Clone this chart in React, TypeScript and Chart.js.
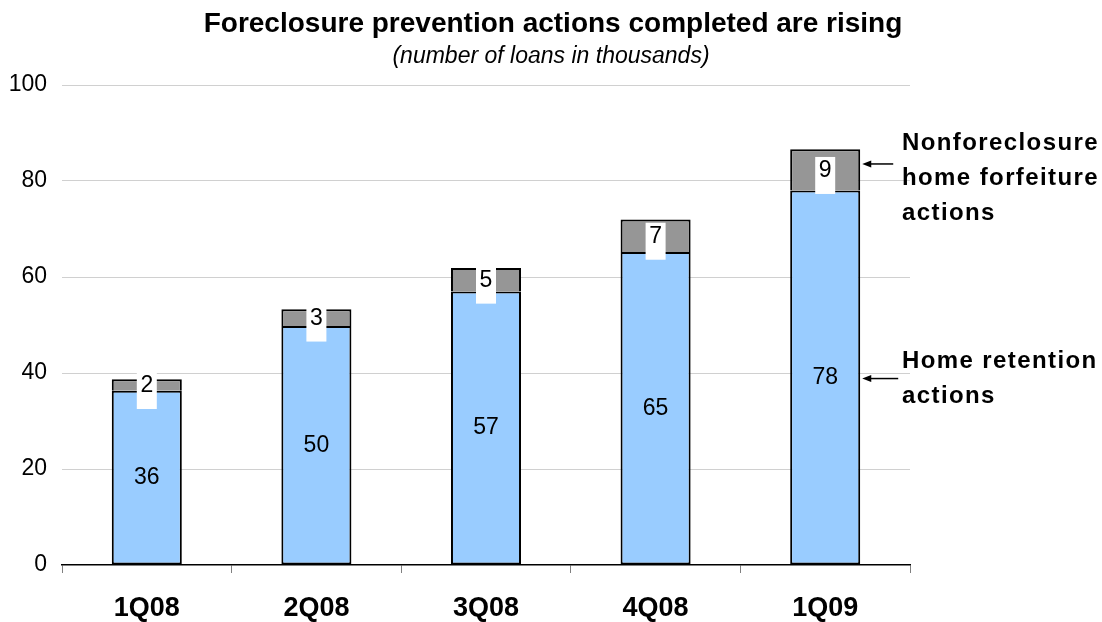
import React, { useEffect, useRef } from "react";
import { Chart, registerables } from "chart.js";

Chart.register(...registerables);

const categories = ["1Q08", "2Q08", "3Q08", "4Q08", "1Q09"];
const homeRetention = [36.3, 49.8, 57.0, 65.2, 78.0];
const nonForeclosure = [2.4, 3.5, 4.9, 6.8, 8.6];
const homeRetentionLabels = ["36", "50", "57", "65", "78"];
const nonForeclosureLabels = ["2", "3", "5", "7", "9"];
const yTicks = [0, 20, 40, 60, 80, 100];

const TITLE = "Foreclosure prevention actions completed are rising";
const SUBTITLE = "(number of loans in thousands)";
const FONT = "'Liberation Sans', Arial, Helvetica, sans-serif";

const overlayPlugin = {
  id: "overlay",
  afterDatasetsDraw(chart: any) {
    const ctx = chart.ctx as CanvasRenderingContext2D;
    const blue = chart.getDatasetMeta(0).data;
    const gray = chart.getDatasetMeta(1).data;
    ctx.save();
    ctx.fillStyle = "#000";
    ctx.textAlign = "center";
    ctx.textBaseline = "middle";
    ctx.font = `23px ${FONT}`;
    blue.forEach((el: any, i: number) => {
      const cy = (el.y + el.base) / 2;
      ctx.fillText(homeRetentionLabels[i], el.x, cy);
    });
    gray.forEach((el: any, i: number) => {
      const cy = (el.y + el.base) / 2;
      ctx.fillStyle = "#fff";
      ctx.fillRect(el.x - 10, cy - 13, 20, 37);
      ctx.fillStyle = "#000";
      ctx.fillText(nonForeclosureLabels[i], el.x, cy + 1);
    });

    // annotations for the last bar
    const lastB = blue[blue.length - 1];
    const lastG = gray[gray.length - 1];
    const tipX = lastB.x + lastB.width / 2 + 2;
    const arrow = (y: number, x2: number) => {
      ctx.strokeStyle = "#000";
      ctx.fillStyle = "#000";
      ctx.lineWidth = 1.5;
      ctx.beginPath();
      ctx.moveTo(tipX + 6, y);
      ctx.lineTo(x2, y);
      ctx.stroke();
      ctx.beginPath();
      ctx.moveTo(tipX, y);
      ctx.lineTo(tipX + 9, y - 3.5);
      ctx.lineTo(tipX + 9, y + 3.5);
      ctx.closePath();
      ctx.fill();
    };
    const gy = (lastG.y + lastG.base) / 2 - 6;
    const by = (lastB.y + lastB.base) / 2 + 1;
    arrow(gy, tipX + 31);
    arrow(by, tipX + 36);

    ctx.fillStyle = "#000";
    ctx.textAlign = "left";
    ctx.font = `bold 24px ${FONT}`;
    (ctx as any).letterSpacing = "1.4px";
    const tx = 902;
    ["Nonforeclosure", "home forfeiture", "actions"].forEach((s, k) => {
      ctx.fillText(s, tx, 143 + k * 35);
    });
    ["Home retention", "actions"].forEach((s, k) => {
      ctx.fillText(s, tx, 361 + k * 35);
    });
    (ctx as any).letterSpacing = "0px";

    // title
    ctx.textAlign = "center";
    ctx.font = `bold 28px ${FONT}`;
    ctx.fillText(TITLE, 553, 24);
    ctx.font = `italic 23px ${FONT}`;
    ctx.fillText(SUBTITLE, 551, 57);
    ctx.restore();
  },
};

export default function App() {
  const ref = useRef<HTMLCanvasElement | null>(null);
  useEffect(() => {
    document.body.style.margin = "0";
    const canvas = ref.current!;
    const chart = new Chart(canvas, {
      type: "bar",
      data: {
        labels: categories,
        datasets: [
          {
            label: "Home retention actions",
            data: homeRetention,
            backgroundColor: "#99CCFF",
            borderColor: "#000",
            borderWidth: 2,
            borderSkipped: false,
            barPercentage: 0.413,
            categoryPercentage: 1,
          },
          {
            label: "Nonforeclosure home forfeiture actions",
            data: nonForeclosure,
            backgroundColor: "#969696",
            borderColor: "#000",
            borderWidth: 2,
            borderSkipped: "bottom",
            barPercentage: 0.413,
            categoryPercentage: 1,
          },
        ],
      },
      options: {
        animation: false,
        responsive: false,
        maintainAspectRatio: false,
        layout: { padding: { top: 85, right: 192, left: 0, bottom: 0 } },
        plugins: {
          legend: { display: false },
          tooltip: { enabled: false },
          title: { display: false },
        },
        scales: {
          x: {
            stacked: true,
            grid: {
              offset: true,
              drawOnChartArea: false,
              drawTicks: true,
              tickLength: 8,
              color: "#808080",
              lineWidth: 1,
            },
            border: { display: true, color: "#000", width: 1.5 },
            ticks: {
              color: "#000",
              padding: 19,
              font: { family: FONT, size: 27, weight: "bold" },
            },
            afterFit: (s: any) => {
              s.height = 57;
            },
          },
          y: {
            stacked: true,
            min: 0,
            max: 100,
            afterBuildTicks: (s: any) => {
              s.ticks = yTicks.map((v) => ({ value: v }));
            },
            grid: {
              drawTicks: false,
              color: (c: any) => (c.tick && c.tick.value === 0 ? "rgba(0,0,0,0)" : "#d0d0d0"),
              lineWidth: 1,
            },
            border: { display: false },
            ticks: {
              color: "#000",
              padding: 15,
              font: { family: FONT, size: 23 },
            },
            afterFit: (s: any) => {
              s.width = 62;
            },
          },
        },
      },
      plugins: [overlayPlugin],
    });
    return () => chart.destroy();
  }, []);
  return (
    <div style={{ width: 1102, height: 622 }}>
      <canvas ref={ref} width={1102} height={622} style={{ display: "block" }} />
    </div>
  );
}
